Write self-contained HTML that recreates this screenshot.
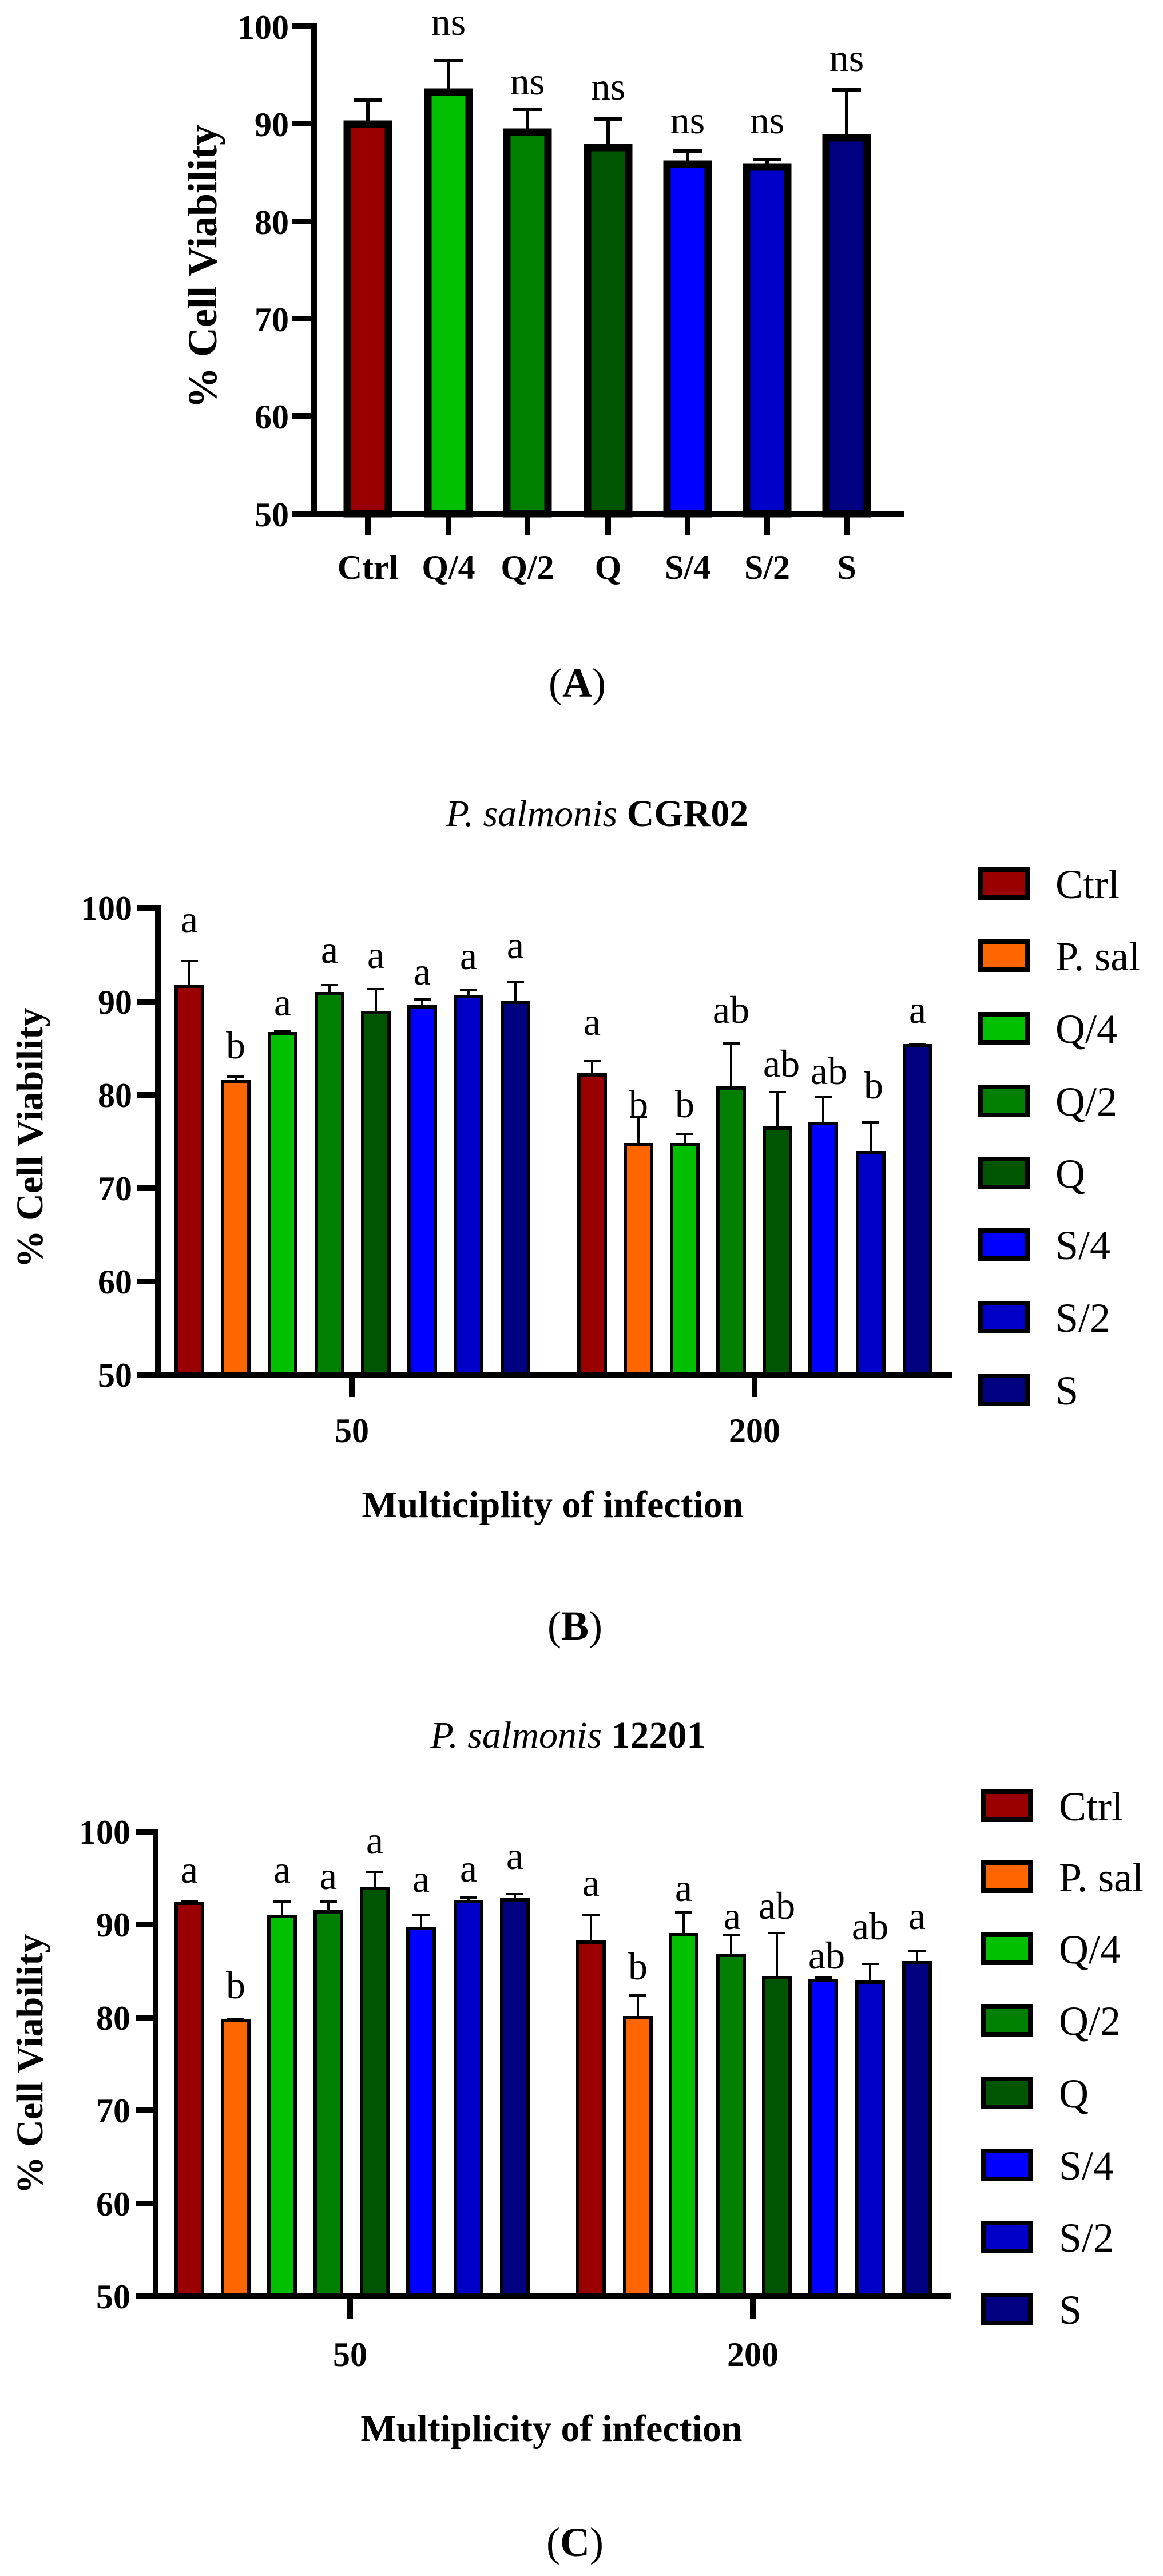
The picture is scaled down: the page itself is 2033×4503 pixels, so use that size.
<!DOCTYPE html>
<html><head><meta charset="utf-8"><style>
html,body{margin:0;padding:0;background:#fff;}
svg{display:block}
text{font-family:"Liberation Serif",serif;fill:#000}
.t{font-weight:bold;font-size:60px}
.l{font-size:68px}
.lg{font-size:72px}
</style></head><body>
<svg width="2033" height="4503" viewBox="0 0 2033 4503" xmlns="http://www.w3.org/2000/svg">
<rect width="2033" height="4503" fill="#fff"/>

<!-- ===== A ===== -->
<g stroke="#000" stroke-width="13">
<rect x="607" y="217" width="72" height="681" fill="#9b0000"/>
<rect x="748" y="161" width="72" height="737" fill="#00c000"/>
<rect x="886" y="231" width="72" height="667" fill="#007f00"/>
<rect x="1027" y="258" width="72" height="640" fill="#005500"/>
<rect x="1166" y="287" width="72" height="611" fill="#0000ff"/>
<rect x="1305" y="292" width="72" height="606" fill="#0000c8"/>
<rect x="1444" y="241" width="72" height="657" fill="#000080"/>
</g>
<g stroke="#000" stroke-width="6" fill="none">
<path d="M643 211V175M618 175H668"/>
<path d="M784 155V106M759 106H809"/>
<path d="M922 225V191M897 191H947"/>
<path d="M1063 252V208M1038 208H1088"/>
<path d="M1202 281V264M1177 264H1227"/>
<path d="M1341 286V279M1316 279H1366"/>
<path d="M1480 235V157M1455 157H1505"/>
</g>
<g stroke="#000" stroke-width="10" fill="none">
<path d="M549 41V898M510 898H1580"/>
<path d="M510 46H549M510 216H549M510 387H549M510 557H549M510 727H549"/>
<path d="M643 898V935M784 898V935M922 898V935M1063 898V935M1202 898V935M1341 898V935M1480 898V935"/>
</g>
<g class="t" text-anchor="end">
<text x="505" y="68">100</text><text x="505" y="238">90</text><text x="505" y="409">80</text>
<text x="505" y="579">70</text><text x="505" y="749">60</text><text x="505" y="920">50</text>
</g>
<g class="t" text-anchor="middle" font-size="62">
<text x="643" y="1012">Ctrl</text><text x="784" y="1012">Q/4</text><text x="922" y="1012">Q/2</text>
<text x="1063" y="1012">Q</text><text x="1202" y="1012">S/4</text><text x="1341" y="1012">S/2</text><text x="1480" y="1012">S</text>
</g>
<g class="l" text-anchor="middle">
<text x="784" y="61">ns</text><text x="922" y="165">ns</text><text x="1063" y="174">ns</text>
<text x="1202" y="233">ns</text><text x="1341" y="233">ns</text><text x="1480" y="124">ns</text>
</g>
<text x="0" y="0" transform="translate(378,466) rotate(-90)" text-anchor="middle" font-weight="bold" font-size="72">% Cell Viability</text>
<text x="1009" y="1218" text-anchor="middle" font-size="72">(<tspan font-weight="bold">A</tspan>)</text>

<!-- ===== B ===== -->
<text x="1044" y="1444" text-anchor="middle" font-size="66"><tspan font-style="italic">P. salmonis</tspan> <tspan font-weight="bold">CGR02</tspan></text>
<g stroke="#000" stroke-width="6">
<rect x="308" y="1724" width="46" height="679" fill="#9b0000"/>
<rect x="389" y="1891" width="46" height="512" fill="#ff6600"/>
<rect x="471" y="1807" width="46" height="596" fill="#00c000"/>
<rect x="553" y="1737" width="46" height="666" fill="#007f00"/>
<rect x="634" y="1770" width="46" height="633" fill="#005500"/>
<rect x="715" y="1760" width="46" height="643" fill="#0000ff"/>
<rect x="796" y="1742" width="46" height="661" fill="#0000c8"/>
<rect x="878" y="1752" width="46" height="651" fill="#000080"/>
<rect x="1012" y="1879" width="46" height="524" fill="#9b0000"/>
<rect x="1093" y="2001" width="46" height="402" fill="#ff6600"/>
<rect x="1174" y="2001" width="46" height="402" fill="#00c000"/>
<rect x="1255" y="1902" width="46" height="501" fill="#007f00"/>
<rect x="1336" y="1972" width="46" height="431" fill="#005500"/>
<rect x="1416" y="1964" width="46" height="439" fill="#0000ff"/>
<rect x="1499" y="2015" width="46" height="388" fill="#0000c8"/>
<rect x="1581" y="1828" width="46" height="575" fill="#000080"/>
</g>
<g stroke="#000" stroke-width="4" fill="none">
<path d="M331 1724V1680M316 1680H346"/><path d="M412 1891V1882M397 1882H427"/>
<path d="M494 1807V1802M479 1802H509"/><path d="M576 1737V1722M561 1722H591"/>
<path d="M657 1770V1729M642 1729H672"/><path d="M738 1760V1747M723 1747H753"/>
<path d="M819 1742V1731M804 1731H834"/><path d="M901 1752V1716M886 1716H916"/>
<path d="M1035 1879V1855M1020 1855H1050"/><path d="M1116 2001V1953M1101 1953H1131"/>
<path d="M1197 2001V1982M1182 1982H1212"/><path d="M1278 1902V1824M1263 1824H1293"/>
<path d="M1359 1972V1909M1344 1909H1374"/><path d="M1439 1964V1918M1424 1918H1454"/>
<path d="M1522 2015V1962M1507 1962H1537"/><path d="M1604 1828V1825M1589 1825H1619"/>
</g>
<g stroke="#000" stroke-width="10" fill="none">
<path d="M276 1582V2403M240 2403H1664"/>
<path d="M240 1587H276M240 1751H276M240 1914H276M240 2077H276M240 2240H276"/>
<path d="M615 2403V2442M1319 2403V2442"/>
</g>
<g class="t" text-anchor="end">
<text x="231" y="1608">100</text><text x="231" y="1772">90</text><text x="231" y="1935">80</text>
<text x="231" y="2098">70</text><text x="231" y="2261">60</text><text x="231" y="2424">50</text>
</g>
<g class="t" text-anchor="middle"><text x="615" y="2521">50</text><text x="1319" y="2521">200</text></g>
<text x="966" y="2652" text-anchor="middle" font-weight="bold" font-size="66">Multiciplity of infection</text>
<text x="0" y="0" transform="translate(74,1989) rotate(-90)" text-anchor="middle" font-weight="bold" font-size="66">% Cell Viability</text>
<g class="l" text-anchor="middle">
<text x="331" y="1630">a</text><text x="412" y="1850">b</text><text x="494" y="1775">a</text><text x="576" y="1683">a</text>
<text x="657" y="1692">a</text><text x="738" y="1721">a</text><text x="819" y="1694">a</text><text x="901" y="1675">a</text>
<text x="1035" y="1809">a</text><text x="1116" y="1953">b</text><text x="1197" y="1953">b</text><text x="1278" y="1788">ab</text>
<text x="1366" y="1882">ab</text><text x="1449" y="1895">ab</text><text x="1527" y="1920">b</text><text x="1604" y="1788">a</text>
</g>
<g stroke="#000" stroke-width="8">
<rect x="1714" y="1520" width="82" height="49" fill="#9b0000"/>
<rect x="1714" y="1646" width="82" height="49" fill="#ff6600"/>
<rect x="1714" y="1773" width="82" height="49" fill="#00c000"/>
<rect x="1714" y="1900" width="82" height="49" fill="#007f00"/>
<rect x="1714" y="2026" width="82" height="49" fill="#005500"/>
<rect x="1714" y="2151" width="82" height="49" fill="#0000ff"/>
<rect x="1714" y="2278" width="82" height="49" fill="#0000c8"/>
<rect x="1714" y="2405" width="82" height="49" fill="#000080"/>
</g>
<g class="lg">
<text x="1845" y="1570">Ctrl</text><text x="1845" y="1696">P. sal</text><text x="1845" y="1823">Q/4</text>
<text x="1845" y="1950">Q/2</text><text x="1845" y="2076">Q</text><text x="1845" y="2201">S/4</text>
<text x="1845" y="2328">S/2</text><text x="1845" y="2455">S</text>
</g>
<text x="1005" y="2866" text-anchor="middle" font-size="72">(<tspan font-weight="bold">B</tspan>)</text>

<!-- ===== C ===== -->
<text x="993" y="3055" text-anchor="middle" font-size="66"><tspan font-style="italic">P. salmonis</tspan> <tspan font-weight="bold">12201</tspan></text>
<g stroke="#000" stroke-width="6">
<rect x="308" y="3327" width="46" height="687" fill="#9b0000"/>
<rect x="389" y="3532" width="46" height="482" fill="#ff6600"/>
<rect x="470" y="3350" width="46" height="664" fill="#00c000"/>
<rect x="551" y="3342" width="46" height="672" fill="#007f00"/>
<rect x="632" y="3301" width="46" height="713" fill="#005500"/>
<rect x="713" y="3371" width="46" height="643" fill="#0000ff"/>
<rect x="796" y="3324" width="46" height="690" fill="#0000c8"/>
<rect x="877" y="3321" width="46" height="693" fill="#000080"/>
<rect x="1010" y="3395" width="46" height="619" fill="#9b0000"/>
<rect x="1092" y="3527" width="46" height="487" fill="#ff6600"/>
<rect x="1172" y="3382" width="46" height="632" fill="#00c000"/>
<rect x="1255" y="3418" width="46" height="596" fill="#007f00"/>
<rect x="1335" y="3457" width="46" height="557" fill="#005500"/>
<rect x="1416" y="3462" width="46" height="552" fill="#0000ff"/>
<rect x="1498" y="3465" width="46" height="549" fill="#0000c8"/>
<rect x="1580" y="3431" width="46" height="583" fill="#000080"/>
</g>
<g stroke="#000" stroke-width="4" fill="none">
<path d="M331 3327V3324M316 3324H346"/><path d="M412 3532V3530M397 3530H427"/>
<path d="M493 3350V3324M478 3324H508"/><path d="M574 3342V3324M559 3324H589"/>
<path d="M655 3301V3272M640 3272H670"/><path d="M736 3371V3348M721 3348H751"/>
<path d="M819 3324V3317M804 3317H834"/><path d="M900 3321V3311M885 3311H915"/>
<path d="M1033 3395V3347M1018 3347H1048"/><path d="M1115 3527V3488M1100 3488H1130"/>
<path d="M1195 3382V3343M1180 3343H1210"/><path d="M1278 3418V3382M1263 3382H1293"/>
<path d="M1358 3457V3379M1343 3379H1373"/><path d="M1439 3462V3457M1424 3457H1454"/>
<path d="M1521 3465V3433M1506 3433H1536"/><path d="M1603 3431V3410M1588 3410H1618"/>
</g>
<g stroke="#000" stroke-width="10" fill="none">
<path d="M272 3197V4014M237 4014H1662"/>
<path d="M237 3202H272M237 3364H272M237 3527H272M237 3689H272M237 3852H272"/>
<path d="M612 4014V4053M1316 4014V4053"/>
</g>
<g class="t" text-anchor="end">
<text x="228" y="3223">100</text><text x="228" y="3385">90</text><text x="228" y="3548">80</text>
<text x="228" y="3710">70</text><text x="228" y="3873">60</text><text x="228" y="4035">50</text>
</g>
<g class="t" text-anchor="middle"><text x="612" y="4136">50</text><text x="1316" y="4136">200</text></g>
<text x="964" y="4267" text-anchor="middle" font-weight="bold" font-size="66">Multiplicity of infection</text>
<text x="0" y="0" transform="translate(74,3608) rotate(-90)" text-anchor="middle" font-weight="bold" font-size="66">% Cell Viability</text>
<g class="l" text-anchor="middle">
<text x="331" y="3291">a</text><text x="412" y="3493">b</text><text x="493" y="3291">a</text><text x="574" y="3302">a</text>
<text x="655" y="3240">a</text><text x="736" y="3307">a</text><text x="819" y="3289">a</text><text x="900" y="3267">a</text>
<text x="1033" y="3314">a</text><text x="1115" y="3460">b</text><text x="1195" y="3323">a</text><text x="1280" y="3372">a</text>
<text x="1358" y="3354">ab</text><text x="1445" y="3441">ab</text><text x="1521" y="3390">ab</text><text x="1603" y="3372">a</text>
</g>
<g stroke="#000" stroke-width="8">
<rect x="1719" y="3132" width="82" height="49" fill="#9b0000"/>
<rect x="1719" y="3256" width="82" height="49" fill="#ff6600"/>
<rect x="1719" y="3382" width="82" height="49" fill="#00c000"/>
<rect x="1719" y="3507" width="82" height="49" fill="#007f00"/>
<rect x="1719" y="3634" width="82" height="49" fill="#005500"/>
<rect x="1719" y="3760" width="82" height="49" fill="#0000ff"/>
<rect x="1719" y="3886" width="82" height="49" fill="#0000c8"/>
<rect x="1719" y="4012" width="82" height="49" fill="#000080"/>
</g>
<g class="lg">
<text x="1851" y="3182">Ctrl</text><text x="1851" y="3306">P. sal</text><text x="1851" y="3432">Q/4</text>
<text x="1851" y="3557">Q/2</text><text x="1851" y="3684">Q</text><text x="1851" y="3810">S/4</text>
<text x="1851" y="3936">S/2</text><text x="1851" y="4062">S</text>
</g>
<text x="1005" y="4468" text-anchor="middle" font-size="72">(<tspan font-weight="bold">C</tspan>)</text>
</svg>
</body></html>
